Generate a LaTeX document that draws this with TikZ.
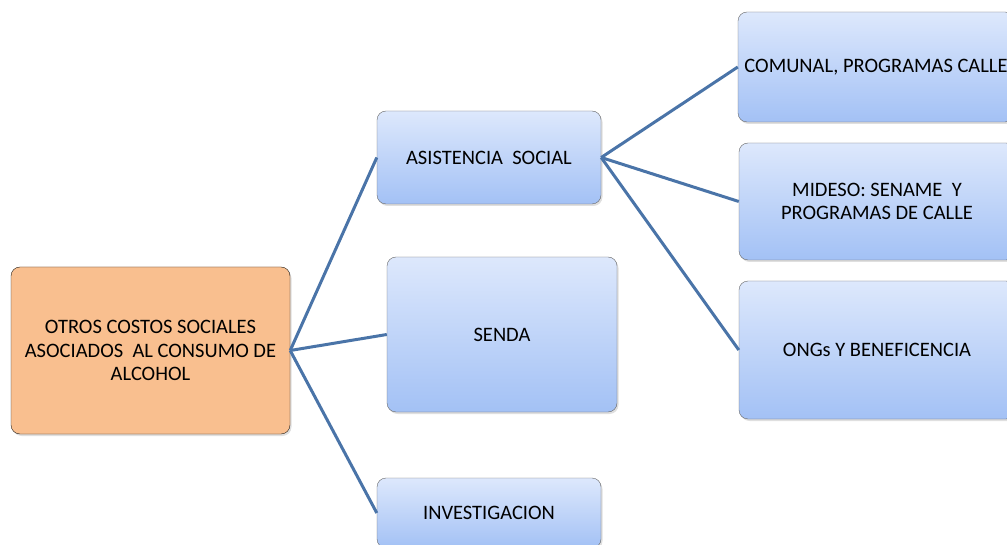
\documentclass[tikz,border=0pt]{standalone}
\usepackage{fontspec}
\setmainfont{Carlito}
\usepackage{tikz}
\usetikzlibrary{shadows}
\definecolor{rootfill}{HTML}{F9BF8F}
\definecolor{boxtop}{HTML}{DDE8FC}
\definecolor{boxbottom}{HTML}{A3C1F5}
\definecolor{linkblue}{HTML}{4A74A8}

\begin{document}
\begin{tikzpicture}[x=1pt, y=-1pt,
  every node/.style = {shape=rectangle, rounded corners=9pt,
    draw=gray!80!black, align=center, inner sep=0pt,
    font=\fontsize{20.5}{23.5}\selectfont,
    drop shadow={opacity=0.25, shadow xshift=1.5pt, shadow yshift=-2pt},
    top color=boxtop, bottom color=boxbottom},
  root/.style = {draw=black!85, fill=rootfill, top color=rootfill, bottom color=rootfill},
  link/.style = {draw=linkblue, line width=3pt},
 ]
 \useasboundingbox (0,0) rectangle (1007,545);
 \clip (0,0) rectangle (1007,545);
 \node[root, minimum width=279pt, minimum height=167pt] (costos) at (150.5,350.5)
   {OTROS COSTOS SOCIALES\\ASOCIADOS\ \ AL CONSUMO DE\\ALCOHOL};
 \node[minimum width=224pt, minimum height=93pt] (asistencia) at (489,157.5) {ASISTENCIA\ \ SOCIAL};
 \node[minimum width=230pt, minimum height=155pt] (senda) at (502,334.5) {SENDA};
 \node[minimum width=224pt, minimum height=70pt] (investigacion) at (489,513) {INVESTIGACION};
 \node[minimum width=276pt, minimum height=110pt] (comunal) at (876,67) {COMUNAL, PROGRAMAS CALLE};
 \node[minimum width=276pt, minimum height=117pt] (mideso) at (877,201.5) {MIDESO: SENAME\ \ Y\\PROGRAMAS DE CALLE};
 \node[minimum width=276pt, minimum height=138pt] (ongs) at (877,350) {ONGs Y BENEFICENCIA};
 \draw[link] (costos.east) -- (asistencia.west);
 \draw[link] (costos.east) -- (senda.west);
 \draw[link] (costos.east) -- (investigacion.west);
 \draw[link] (asistencia.east) -- (comunal.west);
 \draw[link] (asistencia.east) -- (mideso.west);
 \draw[link] (asistencia.east) -- (ongs.west);
\end{tikzpicture}
\end{document}
